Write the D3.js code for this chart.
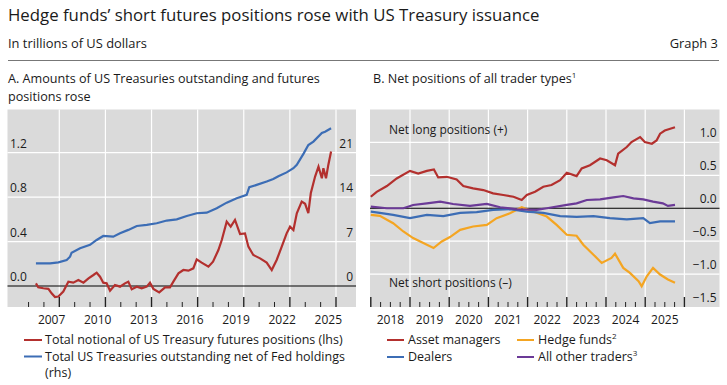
<!DOCTYPE html>
<html>
<head>
<meta charset="utf-8">
<script src="https://cdn.jsdelivr.net/npm/d3@7"></script>
<style>
  body { margin: 0; background: #fff; }
  text { font-family: "Open Sans", sans-serif; fill: #1a1a1a; }
</style>
</head>
<body>
<div id="chart"></div>
<script>
// Panel A: [decimal year, value]
// futures positions, trillions (lhs)
let futures = [
  [2006.48, 0.024], [2006.63, -0.012], [2006.96, -0.02], [2007.29, -0.026], [2007.5, -0.066],
  [2007.72, -0.10], [2007.94, -0.095], [2008.26, -0.05], [2008.59, 0.039], [2008.91, 0.03],
  [2009.24, 0.054], [2009.57, 0.03], [2009.9, 0.069], [2010.22, 0.099], [2010.43, 0.12],
  [2010.65, 0.084], [2010.86, 0.03], [2011.08, 0.024], [2011.3, -0.042], [2011.62, 0.009],
  [2011.95, -0.006], [2012.27, 0.024], [2012.49, 0.039], [2012.71, -0.03], [2013.04, -0.006],
  [2013.36, -0.021], [2013.69, -0.006], [2013.9, 0.03], [2014.12, -0.026], [2014.5, -0.057],
  [2014.88, -0.012], [2015.2, -0.012], [2015.42, 0.039], [2015.75, 0.114], [2016.07, 0.144],
  [2016.4, 0.138], [2016.72, 0.159], [2016.94, 0.24], [2017.26, 0.21], [2017.7, 0.174],
  [2018.0, 0.219], [2018.35, 0.324], [2018.57, 0.414], [2018.89, 0.579], [2019.15, 0.534],
  [2019.43, 0.595], [2019.76, 0.468], [2020.08, 0.474], [2020.3, 0.354], [2020.62, 0.279],
  [2021.06, 0.249], [2021.49, 0.21], [2021.82, 0.144], [2022.14, 0.234], [2022.47, 0.354],
  [2022.79, 0.474], [2023.01, 0.534], [2023.23, 0.504], [2023.45, 0.655], [2023.77, 0.76],
  [2023.99, 0.74], [2024.2, 0.655], [2024.36, 0.835], [2024.64, 0.985], [2024.86, 1.075],
  [2025.08, 0.97], [2025.18, 1.06], [2025.35, 0.97], [2025.5, 1.09], [2025.68, 1.21]
];
// Treasuries outstanding net of Fed holdings, trillions (rhs)
let outstanding = [
  [2006.48, 3.57], [2007.4, 3.57], [2007.94, 3.73], [2008.48, 4.1], [2008.7, 4.62],
  [2008.8, 5.25], [2009.35, 5.95], [2010.0, 6.48], [2010.43, 7.25], [2010.86, 7.88],
  [2011.51, 7.77], [2011.95, 8.3], [2012.49, 8.84], [2013.04, 9.45], [2013.69, 9.63],
  [2014.34, 9.89], [2014.99, 10.31], [2015.64, 10.5], [2016.29, 11.03], [2016.94, 11.46],
  [2017.59, 11.55], [2018.24, 12.25], [2018.89, 13.13], [2019.54, 13.83], [2020.19, 14.35],
  [2020.36, 15.56], [2020.84, 15.93], [2021.49, 16.45], [2021.92, 16.87], [2022.25, 17.3],
  [2022.79, 17.9], [2023.23, 18.55], [2023.45, 19.1], [2023.9, 20.9], [2024.2, 22.2],
  [2024.53, 22.75], [2025.08, 24.1], [2025.29, 24.3], [2025.68, 24.85]
];

// Panel B: net positions, trillions
let assetManagers = [
  [2018.0, 0.175], [2018.15, 0.25], [2018.41, 0.337], [2018.66, 0.453], [2019.0, 0.568],
  [2019.21, 0.528], [2019.43, 0.568], [2019.61, 0.589], [2019.72, 0.468], [2019.94, 0.478],
  [2020.19, 0.438], [2020.36, 0.337], [2020.61, 0.302], [2020.87, 0.276], [2021.12, 0.227],
  [2021.38, 0.201], [2021.64, 0.175], [2021.85, 0.125], [2021.98, 0.201], [2022.19, 0.25],
  [2022.4, 0.326], [2022.61, 0.352], [2022.83, 0.427], [2023.0, 0.538], [2023.25, 0.488],
  [2023.38, 0.604], [2023.59, 0.654], [2023.85, 0.755], [2024.02, 0.73], [2024.23, 0.654],
  [2024.31, 0.83], [2024.53, 0.93], [2024.65, 1.006], [2024.87, 1.082], [2024.99, 1.006],
  [2025.17, 0.98], [2025.29, 1.03], [2025.38, 1.133], [2025.5, 1.18], [2025.76, 1.23]
];
let hedgeFunds = [
  [2018.0, -0.1], [2018.23, -0.115], [2018.57, -0.227], [2018.83, -0.353], [2019.08, -0.453],
  [2019.34, -0.529], [2019.6, -0.604], [2019.81, -0.504], [2020.02, -0.438], [2020.28, -0.328],
  [2020.61, -0.277], [2020.96, -0.252], [2021.21, -0.151], [2021.55, -0.076], [2021.85, 0.015],
  [2022.14, -0.05], [2022.49, -0.126], [2022.74, -0.252], [2023.0, -0.403], [2023.25, -0.418],
  [2023.42, -0.554], [2023.68, -0.705], [2023.89, -0.831], [2024.14, -0.755], [2024.23, -0.69],
  [2024.44, -0.906], [2024.61, -0.982], [2024.83, -1.108], [2024.91, -1.184], [2025.04, -1.033],
  [2025.2, -0.906], [2025.38, -1.007], [2025.58, -1.083], [2025.76, -1.133]
];
let dealers = [
  [2018.0, -0.05], [2018.23, -0.07], [2018.57, -0.1], [2019.0, -0.15], [2019.43, -0.1],
  [2019.85, -0.12], [2020.28, -0.07], [2020.7, -0.06], [2021.12, -0.025], [2021.55, -0.015],
  [2021.98, -0.05], [2022.4, -0.07], [2022.83, -0.12], [2023.25, -0.13], [2023.68, -0.12],
  [2024.1, -0.15], [2024.53, -0.17], [2024.95, -0.15], [2025.12, -0.227], [2025.38, -0.2],
  [2025.76, -0.2]
];
let otherTraders = [
  [2018.0, 0.025], [2018.41, 0.0], [2018.83, 0.0], [2019.08, 0.05], [2019.43, 0.075],
  [2019.77, 0.1], [2020.1, 0.065], [2020.53, 0.035], [2020.96, 0.065], [2021.3, 0.015],
  [2021.72, -0.015], [2022.23, -0.025], [2022.49, 0.0], [2023.0, 0.05], [2023.25, 0.075],
  [2023.51, 0.125], [2023.85, 0.135], [2024.19, 0.166], [2024.44, 0.186], [2024.7, 0.15],
  [2024.95, 0.135], [2025.2, 0.1], [2025.45, 0.075], [2025.58, 0.035], [2025.76, 0.05]
];

// tick labels
let ticksA_lhs = [0.0, 0.4, 0.8, 1.2];
let ticksA_rhs = [0, 7, 14, 21];
let yearsA = [2007, 2010, 2013, 2016, 2019, 2022, 2025];
let ticksB = [1.0, 0.5, 0.0, -0.5, -1.0, -1.5];
let yearsB = [2018, 2019, 2020, 2021, 2022, 2023, 2024, 2025];

let colors = { red: "#b3302e", blue: "#3c6db5", orange: "#f4a522", purple: "#6b3a97" };

let width = 727, height = 385;
let svg = d3.select("#chart").append("svg")
    .attr("width", width)
    .attr("height", height);

// headings
svg.append("text").attr("x", 8).attr("y", 20.5).style("font-size", "16.8px")
    .text("Hedge funds’ short futures positions rose with US Treasury issuance");
svg.append("text").attr("x", 8).attr("y", 48).style("font-size", "12.9px")
    .text("In trillions of US dollars");
svg.append("text").attr("x", 718).attr("y", 48).attr("text-anchor", "end").style("font-size", "12.9px")
    .text("Graph 3");
svg.append("line").attr("x1", 8).attr("x2", 719).attr("y1", 60.5).attr("y2", 60.5)
    .attr("stroke", "#777").attr("stroke-width", 1);
svg.append("text").attr("x", 8).attr("y", 83).style("font-size", "12.6px")
    .text("A. Amounts of US Treasuries outstanding and futures");
svg.append("text").attr("x", 8).attr("y", 100.5).style("font-size", "12.6px")
    .text("positions rose");
let titleB = svg.append("text").attr("x", 373).attr("y", 83).style("font-size", "12.6px");
titleB.append("tspan").text("B. Net positions of all trader types");
titleB.append("tspan").attr("dy", -5).style("font-size", "8px").text("1");

// ---------- Panel A ----------
let pA = { left: 7.5, right: 356, top: 109.5, bottom: 307 };
let xA = d3.scaleLinear().domain([2008, 2026]).range([59.3, 336]);
let yA = d3.scaleLinear().domain([0, 1.2]).range([286, 152.7]);
let yA2 = d3.scaleLinear().domain([0, 21]).range([286, 152.7]);

let gA = svg.append("g");
gA.append("rect").attr("x", pA.left).attr("y", pA.top)
    .attr("width", pA.right - pA.left).attr("height", pA.bottom - pA.top)
    .attr("fill", "#dadada");

// gridlines
gA.selectAll(".hgrid").data(ticksA_lhs.slice(1)).enter().append("line")
    .attr("x1", pA.left).attr("x2", pA.right)
    .attr("y1", d => yA(d)).attr("y2", d => yA(d))
    .attr("stroke", "#fff").attr("stroke-width", 1.2);
gA.selectAll(".vgrid").data(d3.range(2008, 2027, 3)).enter().append("line")
    .attr("x1", d => xA(d)).attr("x2", d => xA(d))
    .attr("y1", pA.top).attr("y2", pA.bottom)
    .attr("stroke", "#fff").attr("stroke-width", 1.2);

// ticks
gA.selectAll(".tick").data(d3.range(2006, 2027)).enter().append("line")
    .attr("x1", d => xA(d)).attr("x2", d => xA(d))
    .attr("y1", d => (d - 2008) % 3 === 0 ? 297 : 302).attr("y2", pA.bottom)
    .attr("stroke", "#222").attr("stroke-width", d => (d - 2008) % 3 === 0 ? 1.4 : 1);

// axis labels
gA.selectAll(".ylab").data(ticksA_lhs).enter().append("text")
    .attr("x", 10).attr("y", d => yA(d) - 5).style("font-size", "12px")
    .text(d => d3.format(".1f")(d));
gA.selectAll(".ylab2").data(ticksA_rhs).enter().append("text")
    .attr("x", 353).attr("y", d => yA2(d) - 5).attr("text-anchor", "end").style("font-size", "12px")
    .text(d => d);
gA.selectAll(".xlab").data(yearsA).enter().append("text")
    .attr("x", d => xA(d + 0.5)).attr("y", 324).attr("text-anchor", "middle").style("font-size", "12px")
    .text(d => d);

// zero line
gA.append("line").attr("x1", pA.left).attr("x2", pA.right)
    .attr("y1", yA(0)).attr("y2", yA(0)).attr("stroke", "#000").attr("stroke-width", 1);

// lines
gA.append("path").datum(outstanding)
    .attr("fill", "none").attr("stroke", colors.blue).attr("stroke-width", 2.2)
    .attr("d", d3.line().x(d => xA(d[0])).y(d => yA2(d[1])));
gA.append("path").datum(futures)
    .attr("fill", "none").attr("stroke", colors.red).attr("stroke-width", 2.2)
    .attr("d", d3.line().x(d => xA(d[0])).y(d => yA(d[1])));

// legend A
let legA = [
  { c: colors.red, lines: ["Total notional of US Treasury futures positions (lhs)"] },
  { c: colors.blue, lines: ["Total US Treasuries outstanding net of Fed holdings", "(rhs)"] }
];
legA.forEach(function(item, i) {
    let y0 = 344 + i * 16.5;
    svg.append("line").attr("x1", 24).attr("x2", 42).attr("y1", y0 - 4).attr("y2", y0 - 4)
        .attr("stroke", item.c).attr("stroke-width", 2);
    item.lines.forEach(function(t, j) {
        svg.append("text").attr("x", 45).attr("y", y0 + j * 16.5).style("font-size", "12.5px").text(t);
    });
});

// ---------- Panel B ----------
let pB = { left: 370, right: 719.5, top: 109.5, bottom: 307 };
let xB = d3.scaleLinear().domain([2019, 2026]).range([410, 684.4]);
let yB = d3.scaleLinear().domain([-1.5, 1.5]).range([307, 109.5]);

let gB = svg.append("g");
gB.append("rect").attr("x", pB.left).attr("y", pB.top)
    .attr("width", pB.right - pB.left).attr("height", pB.bottom - pB.top)
    .attr("fill", "#dadada");

gB.selectAll(".hgrid").data(ticksB.filter(d => d !== 0 && d !== -1.5)).enter().append("line")
    .attr("x1", pB.left).attr("x2", pB.right)
    .attr("y1", d => yB(d)).attr("y2", d => yB(d))
    .attr("stroke", "#fff").attr("stroke-width", 1.2);
gB.selectAll(".vgrid").data(d3.range(2019, 2027)).enter().append("line")
    .attr("x1", d => xB(d)).attr("x2", d => xB(d))
    .attr("y1", pB.top).attr("y2", pB.bottom)
    .attr("stroke", "#fff").attr("stroke-width", 1.2);

// quarterly ticks
gB.selectAll(".tick").data(d3.range(0, 33)).enter().append("line")
    .attr("x1", d => xB(2018 + d / 4)).attr("x2", d => xB(2018 + d / 4))
    .attr("y1", d => d % 4 === 0 ? 297 : 302).attr("y2", pB.bottom)
    .attr("stroke", "#222").attr("stroke-width", d => d % 4 === 0 ? 1.4 : 1);

gB.selectAll(".ylab").data(ticksB).enter().append("text")
    .attr("x", 716.5).attr("y", d => yB(d) - 5).attr("text-anchor", "end").style("font-size", "12px")
    .text(d => d3.format(".1f")(d).replace("-", "−"));
gB.selectAll(".xlab").data(yearsB).enter().append("text")
    .attr("x", d => xB(d + 0.5)).attr("y", 324).attr("text-anchor", "middle").style("font-size", "12px")
    .text(d => d);

gB.append("text").attr("x", 389).attr("y", 133.5).style("font-size", "12px").text("Net long positions (+)");
gB.append("text").attr("x", 389).attr("y", 287).style("font-size", "12px").text("Net short positions (–)");

gB.append("line").attr("x1", pB.left).attr("x2", pB.right)
    .attr("y1", yB(0)).attr("y2", yB(0)).attr("stroke", "#000").attr("stroke-width", 1);

let lineB = d3.line().x(d => xB(d[0])).y(d => yB(d[1]));
[[hedgeFunds, colors.orange], [dealers, colors.blue], [otherTraders, colors.purple], [assetManagers, colors.red]]
  .forEach(function(s) {
    gB.append("path").datum(s[0])
        .attr("fill", "none").attr("stroke", s[1]).attr("stroke-width", 2.2)
        .attr("d", lineB);
  });

// legend B
let legB = [
  { c: colors.red, t: "Asset managers", sup: "", x: 387, y: 344 },
  { c: colors.orange, t: "Hedge funds", sup: "2", x: 517, y: 344 },
  { c: colors.blue, t: "Dealers", sup: "", x: 387, y: 361 },
  { c: colors.purple, t: "All other traders", sup: "3", x: 517, y: 361 }
];
legB.forEach(function(item) {
    svg.append("line").attr("x1", item.x).attr("x2", item.x + 17)
        .attr("y1", item.y - 4).attr("y2", item.y - 4)
        .attr("stroke", item.c).attr("stroke-width", 2);
    let t = svg.append("text").attr("x", item.x + 21).attr("y", item.y).style("font-size", "12.5px");
    t.append("tspan").text(item.t);
    if (item.sup) t.append("tspan").attr("dy", -5).style("font-size", "8px").text(item.sup);
});
</script>
</body>
</html>
